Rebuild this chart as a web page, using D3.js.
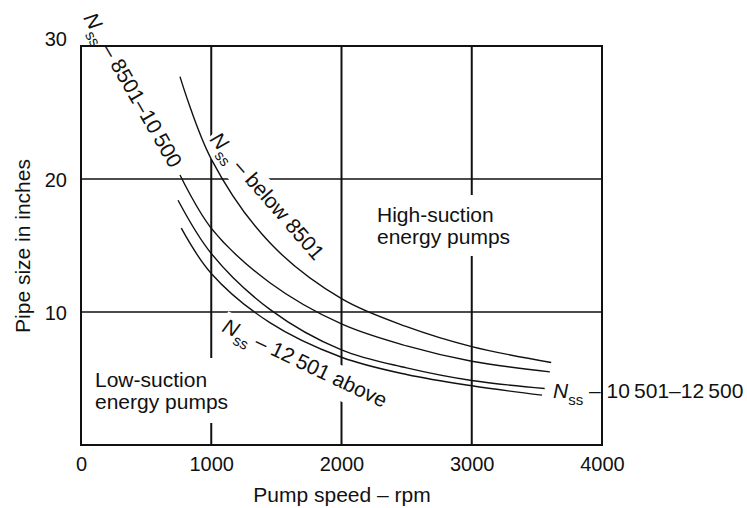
<!DOCTYPE html>
<html>
<head>
<meta charset="utf-8">
<script src="https://cdn.jsdelivr.net/npm/d3@7"></script>
<style>
  html, body { margin: 0; padding: 0; background: #fff; }
  svg { display: block; }
  text { font-family: "Liberation Sans", Arial, Helvetica, sans-serif; fill: #111; }
</style>
</head>
<body>
<svg id="chart" width="747" height="508"></svg>
<script>
// Axis ticks
const xTicks = [0, 1000, 2000, 3000, 4000];
const yTicks = [10, 20, 30];
const xGrid = [1000, 2000, 3000];
const yGrid = [10, 20];

// Suction specific speed curves: pump speed (rpm) vs pipe size (in)
const rpmBelow8501 = [760, 1000, 1450, 2000, 2500, 3000, 3610];
const sizeBelow8501 = [27.7, 21.5, 15.2, 11.0, 8.9, 7.4, 6.2];

const rpm8501to10500 = [760, 1000, 1450, 2000, 2500, 3000, 3600];
const size8501to10500 = [20.3, 16.3, 12.2, 9.1, 7.45, 6.3, 5.5];

const rpm10501to12500 = [745, 1000, 1450, 2000, 2500, 3000, 3560];
const size10501to12500 = [18.4, 14.4, 10.2, 7.15, 5.8, 4.85, 4.25];

const rpm12501above = [770, 1000, 1450, 2000, 2500, 3000, 3540];
const size12501above = [16.3, 12.9, 9.2, 6.6, 5.3, 4.45, 3.75];

const curves = [
  { rpm: rpmBelow8501, size: sizeBelow8501 },
  { rpm: rpm8501to10500, size: size8501to10500 },
  { rpm: rpm10501to12500, size: size10501to12500 },
  { rpm: rpm12501above, size: size12501above }
];

const svg = d3.select("#chart");
const x = d3.scaleLinear().domain([0, 4000]).range([81, 602]);
const y = d3.scaleLinear().domain([0, 30]).range([445, 46]);

const gGrid = svg.append("g");
const gBg = svg.append("g");
const gCurves = svg.append("g");
const gText = svg.append("g");
const gFrame = svg.append("g");

// Grid lines
gGrid.selectAll("line.v").data(xGrid).join("line")
  .attr("x1", d => x(d)).attr("x2", d => x(d))
  .attr("y1", y(0)).attr("y2", y(30))
  .attr("stroke", "#111").attr("stroke-width", 2);
gGrid.selectAll("line.h").data(yGrid).join("line")
  .attr("x1", x(0)).attr("x2", x(4000))
  .attr("y1", d => y(d)).attr("y2", d => y(d))
  .attr("stroke", "#111").attr("stroke-width", 1.3);

// Curves
const line = d3.line()
  .x(d => x(d[0])).y(d => y(d[1]))
  .curve(d3.curveCatmullRom.alpha(0.5));
gCurves.selectAll("path").data(curves).join("path")
  .attr("d", c => line(c.rpm.map((r, i) => [r, c.size[i]])))
  .attr("fill", "none").attr("stroke", "#111").attr("stroke-width", 1.4);

// Axes (labels only; frame drawn separately)
const xAxis = svg.append("g").attr("transform", `translate(0,${y(0)})`)
  .call(d3.axisBottom(x).tickValues(xTicks).tickSize(0).tickPadding(0).tickFormat(d3.format("d")));
xAxis.select(".domain").remove();
xAxis.selectAll("text").attr("font-size", 20).attr("y", 26).attr("dy", 0)
  .style("font-family", "Liberation Sans, Arial, sans-serif").attr("fill", "#111");

const yAxis = svg.append("g").attr("transform", `translate(${x(0)},0)`)
  .call(d3.axisLeft(y).tickValues(yTicks).tickSize(0).tickPadding(14).tickFormat(d3.format("d")));
yAxis.select(".domain").remove();
yAxis.selectAll("text").attr("font-size", 20)
  .attr("dy", d => d === 30 ? "-0.05em" : "0.35em")
  .style("font-family", "Liberation Sans, Arial, sans-serif").attr("fill", "#111");

svg.append("text").attr("x", 342).attr("y", 502).attr("text-anchor", "middle")
  .attr("font-size", 21).text("Pump speed – rpm");
svg.append("text").attr("transform", "translate(30,246) rotate(-90)")
  .attr("text-anchor", "middle").attr("font-size", 21).text("Pipe size in inches");

// Labels with white backing that interrupts the grid
function backed(transform, build, padX, padY) {
  const g = gText.append("g").attr("transform", transform);
  const t = g.append("text").attr("font-size", 21);
  build(t);
  const b = t.node().getBBox();
  gBg.append("rect").attr("transform", transform)
    .attr("x", b.x - padX).attr("y", b.y - padY)
    .attr("width", b.width + 2 * padX).attr("height", b.height + 2 * padY)
    .attr("fill", "#fff");
}

function nss(t, rest) {
  t.append("tspan").attr("font-style", "italic").text("N");
  t.append("tspan").attr("font-size", 15).attr("dy", 7).text("ss");
  t.append("tspan").attr("dy", -7).text(rest);
}

backed("translate(83,18) rotate(60)", t => nss(t, " – 8501–10\u2009500"), 1, 0);
backed("translate(209,140) rotate(49)", t => nss(t, " – below 8501"), 2, 1);
backed("translate(221,331) rotate(25.5)", t => nss(t, " – 12\u2009501 above"), 2, 2);

gText.append("text").attr("x", 553).attr("y", 398).attr("font-size", 21)
  .call(t => nss(t, " – 10\u2009501–12\u2009500"));

backed("translate(95,387)", t => {
  t.append("tspan").attr("x", 0).attr("y", 0).text("Low-suction");
  t.append("tspan").attr("x", 0).attr("y", 22).text("energy pumps");
}, 4, 10);

backed("translate(377,222)", t => {
  t.append("tspan").attr("x", 0).attr("y", 0).text("High-suction");
  t.append("tspan").attr("x", 0).attr("y", 22).text("energy pumps");
}, 4, 8);

// Frame
gFrame.append("rect")
  .attr("x", x(0)).attr("y", y(30))
  .attr("width", x(4000) - x(0)).attr("height", y(0) - y(30))
  .attr("fill", "none").attr("stroke", "#111").attr("stroke-width", 2);
</script>
</body>
</html>
